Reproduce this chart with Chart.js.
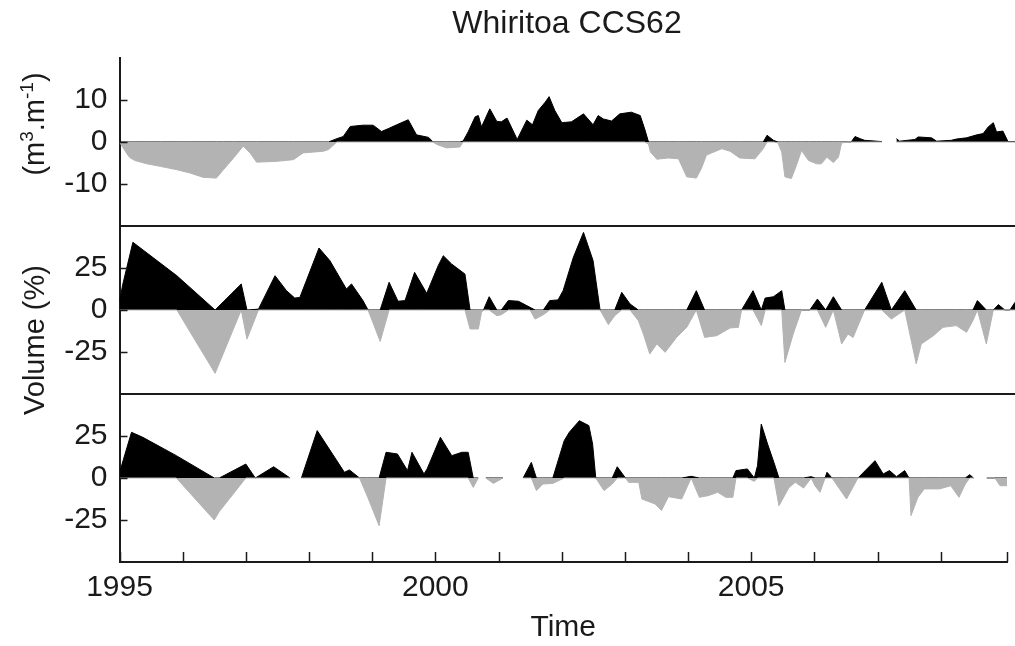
<!DOCTYPE html>
<html>
<head>
<meta charset="utf-8">
<title>Whiritoa CCS62</title>
<script src="https://cdn.jsdelivr.net/npm/chart.js@4/dist/chart.umd.min.js"></script>
<style>
  body { margin: 0; background: #fff; }
  #wrap { position: relative; width: 1015px; height: 646px; overflow: hidden; font-family: "Liberation Sans", Arial, sans-serif; color: #1a1a1a; }
  #wrap canvas { position: absolute; left: 0; top: 0; }
  .title { position: absolute; left: 119px; width: 896px; top: 4px; text-align: center; font-size: 32px; line-height: 36px; }
  .ylab { position: absolute; font-size: 29px; line-height: 34px; white-space: nowrap; transform: translate(-50%, -50%) rotate(-90deg); }
  .ylab sup { font-size: 19px; line-height: 0; }
</style>
</head>
<body>
<div id="wrap">
  <canvas id="volumeChart" width="1015" height="646"></canvas>
  <canvas id="changeChart" width="1015" height="646"></canvas>
  <canvas id="erosionChart" width="1015" height="646"></canvas>
  <div class="title">Whiritoa CCS62</div>
  <div class="ylab" style="left:34px; top:124px;">(m<sup>3</sup>.m<sup>-1</sup>)</div>
  <div class="ylab" style="left:34px; top:340px;">Volume (%)</div>
</div>

<script>
// beach volume (m3/m), top panel
const volumeYears = [
  1995.00, 1995.09, 1995.16, 1995.24, 1995.43, 1995.64, 1995.90, 1996.11, 1996.31, 1996.52,
  1996.63, 1996.79, 1996.94, 1997.05, 1997.15, 1997.47, 1997.73, 1997.88, 1998.20, 1998.28,
  1998.41, 1998.51, 1998.62, 1998.82, 1998.98, 1999.11, 1999.22, 1999.35, 1999.53, 1999.66,
  1999.85, 1999.92, 1999.98, 2000.13, 2000.34, 2000.39, 2000.47, 2000.58, 2000.63, 2000.68,
  2000.81, 2000.92, 2000.99, 2001.08, 2001.24, 2001.39, 2001.48, 2001.57, 2001.68, 2001.74,
  2001.83, 2001.94, 2002.09, 2002.28, 2002.43, 2002.51, 2002.59, 2002.72, 2002.85, 2003.03,
  2003.17, 2003.24, 2003.30, 2003.33, 2003.43, 2003.61, 2003.77, 2003.90, 2004.05, 2004.13,
  2004.21, 2004.45, 2004.58, 2004.73, 2004.97, 2005.10, 2005.16, 2005.26, 2005.33, 2005.39,
  2005.44, 2005.54, 2005.62, 2005.70, 2005.81, 2005.94, 2006.01, 2006.10, 2006.20, 2006.28,
  2006.33, 2006.48, 2006.54, 2006.62, 2006.69, 2006.96, 2007.05, 2007.19, 2007.24, 2007.48,
  2007.53, 2007.74, 2007.82, 2008.05, 2008.13, 2008.29, 2008.45, 2008.55, 2008.63, 2008.71,
  2008.76, 2008.86, 2008.94, 2009.05
];
const volumeValues = [
  0, -2.2, -3.7, -4.4, -5.2, -5.8, -6.6, -7.4, -8.4, -8.6,
  -6.6, -3.8, -1.0, -2.6, -4.8, -4.6, -4.2, -2.6, -2.2, -1.8,
  0.8, 1.3, 3.7, 4.0, 4.0, 2.5, 3.2, 4.1, 5.3, 1.7,
  1.1, 0, -0.6, -1.4, -1.2, 0.2, 2.4, 6.0, 6.3, 3.6,
  7.9, 4.9, 4.8, 5.7, 0.6, 5.2, 4.1, 7.5, 9.5, 10.8,
  7.5, 4.6, 4.8, 6.7, 4.1, 6.3, 5.5, 5.0, 6.7, 7.1,
  6.3, 3.1, -0.5, -2.4, -4.1, -3.8, -4.0, -8.3, -8.6, -6.3,
  -3.1, -1.6, -2.2, -3.8, -4.0, -1.6, 1.6, 0.4, -0.2, -2.4,
  -8.3, -8.7, -5.6, -2.0, -4.4, -5.2, -5.2, -3.6, -4.9, -3.6,
  -0.2, 0, 1.3, 0.8, 0.4, 0.1, null, 0.8, 0.2, 0.6,
  1.2, 1.0, 0.2, 0.4, 0.7, 1.0, 1.7, 2.0, 3.6, 4.6,
  2.4, 2.6, 0.1, 0.1
];

// volume change (%), middle panel
const changeYears = [
  1995.00, 1995.05, 1995.21, 1995.37, 1995.90, 1996.50, 1996.91, 1997.00, 1997.18, 1997.44,
  1997.62, 1997.75, 1997.83, 1998.13, 1998.30, 1998.56, 1998.64, 1998.82, 1998.90, 1999.09,
  1999.23, 1999.37, 1999.48, 1999.63, 1999.82, 2000.00, 2000.08, 2000.21, 2000.42, 2000.50,
  2000.63, 2000.68, 2000.71, 2000.80, 2000.92, 2000.99, 2001.10, 2001.26, 2001.44, 2001.52,
  2001.65, 2001.75, 2001.88, 2001.96, 2002.12, 2002.28, 2002.43, 2002.54, 2002.67, 2002.77,
  2002.88, 2003.01, 2003.14, 2003.22, 2003.32, 2003.43, 2003.56, 2003.74, 2003.90, 2004.05,
  2004.18, 2004.37, 2004.58, 2004.71, 2004.76, 2004.94, 2005.07, 2005.13, 2005.26, 2005.39,
  2005.44, 2005.57, 2005.70, 2005.83, 2005.95, 2006.08, 2006.20, 2006.33, 2006.43, 2006.51,
  2006.69, 2006.96, 2007.11, 2007.32, 2007.50, 2007.58, 2007.77, 2007.92, 2008.13, 2008.29,
  2008.39, 2008.46, 2008.60, 2008.71, 2008.79, 2008.89, 2008.97, 2009.05
];
const changeValues = [
  5, 15, 40.3, 35.7, 20.4, -37.7, 15.5, -17.3, 0.5, 20.4,
  11.5, 7.1, 7.5, 36.9, 29.4, 12.5, 15.5, 5.6, 0, -18.7,
  16.5, 5.2, 5.6, 22.4, 9.9, 26.4, 32.3, 27.4, 21.4, -11.3,
  -11.3, -1.4, 0, 7.9, -3.4, -2.8, 5.6, 5.2, 1.6, -5.4,
  -2.8, 5.6, 6.0, 11.5, 31.3, 46.2, 29.4, 0, -8.7, -3.4,
  10.5, 3.6, -6.3, -14.3, -26.2, -20.2, -25.2, -16.3, -10.3, 11.5,
  -16.3, -15.3, -10.7, -10.3, 0, 11.5, -9.3, 7.1, 7.9, 11.5,
  -31.2, -14.3, 0, 0, 6.5, -10.3, 7.9, -20.2, -14.3, -16.3,
  0, 16.5, -5.4, 11.5, -32, -20.2, -15.3, -10.3, -9.3, -13.3,
  -6.3, 5.6, -20.2, 0, 3.2, 0, 0, 4.6
];

// volume change (%), bottom panel
const erosionYears = [
  1995.01, 1995.19, 1995.37, 1995.90, 1996.50, 1996.58, 1997.00, 1997.15, 1997.44, 1997.70,
  1997.80, 1997.88, 1998.13, 1998.56, 1998.64, 1998.80, 1998.93, 1999.11, 1999.22, 1999.40,
  1999.56, 1999.63, 1999.82, 1999.87, 2000.08, 2000.26, 2000.42, 2000.52, 2000.60, 2000.68,
  2000.73, 2000.80, 2000.92, 2001.07, 2001.20, 2001.39, 2001.52, 2001.60, 2001.70, 2001.86,
  2002.04, 2002.12, 2002.28, 2002.43, 2002.49, 2002.54, 2002.67, 2002.80, 2002.88, 2003.01,
  2003.06, 2003.22, 2003.27, 2003.48, 2003.58, 2003.69, 2003.90, 2004.05, 2004.18, 2004.32,
  2004.47, 2004.60, 2004.71, 2004.76, 2004.94, 2005.05, 2005.10, 2005.16, 2005.26, 2005.36,
  2005.44, 2005.60, 2005.70, 2005.83, 2005.95, 2006.01, 2006.09, 2006.17, 2006.20, 2006.28,
  2006.51, 2006.69, 2006.96, 2007.09, 2007.19, 2007.30, 2007.43, 2007.50, 2007.53, 2007.64,
  2007.74, 2007.98, 2008.16, 2008.29, 2008.39, 2008.46, 2008.52, 2008.60, 2008.73, 2008.86,
  2008.94, 2009.05
];
const erosionValues = [
  4.4, 27.2, 24.2, 13.3, -25, -20, 8.3, 0, 6.7, 0,
  null, 0, 28.2, 3.4, 4.8, 0, -11.5, -28.4, 15.3, 14.3,
  4.4, 15.3, 2.4, 5.4, 24.2, 13.3, 15.3, 15.3, -5.6, 0,
  null, 0, -3.2, 0, null, 0, 9.3, -7.5, -3.6, -3.2,
  22.2, 27.2, 34.1, 31.2, 20.2, 0, -7.5, -3.6, 6.7, 0,
  -2.6, -2.6, -12.5, -15.5, -19.4, -11.1, -12.5, 1.0, -11.5, -10.5,
  -8.5, -11.5, -11.5, 4.4, 5.4, -2.0, 7.3, 32.1, 20.2, 9.3,
  -16.5, -5.6, -2.6, -6.0, 0.8, -4.6, -8.5, 0, 3.4, 0,
  -12.5, 0, 10.3, 2.4, 4.4, 0.8, 4.4, 0, -22.4, -11.5,
  -6.5, -6.5, -4.6, -11.5, -3.6, 2.0, 0, null, 0, 0,
  -4.6, -4.6
];

const volumeTicks = [-10, 0, 10];
const percentTicks = [-25, 0, 25];
const yearLabels = [1995, 2000, 2005];

const FONT = { family: '"Liberation Sans", Arial, sans-serif', size: 30 };
const INK = '#1a1a1a';
const GAIN = '#000000';
const LOSS = '#b3b3b3';
const X_MIN = 1995;
const X_MAX = 2009.05;

// chart areas are pinned with padding so the three panels line up
const panelBoxes = {
  volumeChart: { top: 58, bottom: 226 },
  changeChart: { top: 226, bottom: 394 },
  erosionChart: { top: 394, bottom: 562 }
};

// short inward tick marks, drawn from the scales
const inwardTicks = {
  id: 'inwardTicks',
  afterDraw(chart, args, opts) {
    const { ctx, chartArea } = chart;
    ctx.save();
    ctx.strokeStyle = INK;
    ctx.lineWidth = 1.5;
    ctx.beginPath();
    opts.yTicks.forEach(v => {
      const y = Math.round(chart.scales.y.getPixelForValue(v)) + 0.5;
      ctx.moveTo(chartArea.left, y);
      ctx.lineTo(chartArea.left + 8, y);
    });
    if (opts.xTicks) {
      chart.scales.x.ticks.forEach(t => {
        const x = Math.round(chart.scales.x.getPixelForValue(t.value)) + 0.5;
        ctx.moveTo(x, chartArea.bottom);
        ctx.lineTo(x, chartArea.bottom - 10);
      });
    }
    ctx.stroke();
    ctx.restore();
  }
};

const splitSeries = (years, values, keep) =>
  years.map((x, i) => ({ x, y: values[i] === null ? null : keep(values[i]) }));

const areaDataset = (data, colour) => ({
  data,
  fill: 'origin',
  backgroundColor: colour,
  borderColor: colour,
  borderWidth: 1,
  pointRadius: 0,
  tension: 0,
  spanGaps: false
});

const makePanel = (id, years, values, yRange, yTicks, isBottom) => {
  const box = panelBoxes[id];
  const ctx = document.getElementById(id).getContext('2d');

  const data = {
    datasets: [
      areaDataset(splitSeries(years, values, v => Math.min(v, 0)), LOSS),
      areaDataset(splitSeries(years, values, v => Math.max(v, 0)), GAIN)
    ]
  };

  return new Chart(ctx, {
    type: 'line',
    data,
    plugins: [inwardTicks],
    options: {
      responsive: false,
      animation: false,
      devicePixelRatio: 1,
      layout: { padding: { top: box.top, bottom: isBottom ? 0 : 646 - box.bottom, left: 0, right: 0 } },
      plugins: {
        legend: { display: false },
        tooltip: { enabled: false },
        inwardTicks: { yTicks, xTicks: isBottom }
      },
      scales: {
        x: {
          type: 'linear',
          min: X_MIN,
          max: X_MAX,
          grid: { drawOnChartArea: false, drawTicks: false },
          border: { display: true, color: INK, width: 2 },
          ticks: {
            display: isBottom,
            stepSize: 1,
            autoSkip: false,
            maxRotation: 0,
            padding: 8,
            color: INK,
            font: FONT,
            callback: v => yearLabels.includes(v) ? String(v) : ''
          },
          title: {
            display: isBottom,
            text: 'Time',
            color: INK,
            font: FONT,
            padding: { top: 0, bottom: 0 }
          },
          afterFit: axis => { axis.height = isBottom ? 646 - box.bottom : 0; }
        },
        y: {
          min: yRange[0],
          max: yRange[1],
          grid: { drawOnChartArea: false, drawTicks: false },
          border: { display: true, color: INK, width: 2 },
          ticks: { padding: 12, color: INK, font: FONT },
          afterBuildTicks: axis => { axis.ticks = yTicks.map(value => ({ value })); },
          afterFit: axis => { axis.width = 119.5; }
        }
      }
    }
  });
};

let volumeChart = makePanel('volumeChart', volumeYears, volumeValues, [-20, 20], volumeTicks, false);
let changeChart = makePanel('changeChart', changeYears, changeValues, [-50, 50], percentTicks, false);
let erosionChart = makePanel('erosionChart', erosionYears, erosionValues, [-50, 50], percentTicks, true);
</script>
</body>
</html>
